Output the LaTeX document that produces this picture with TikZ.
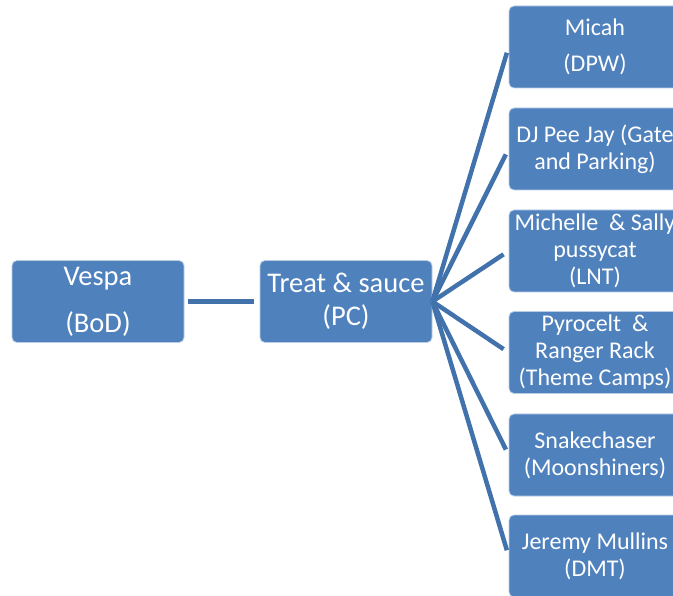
\documentclass[tikz,border=0pt]{standalone}
\usepackage{fontspec}
\setmainfont{Carlito}
\definecolor{boxblue}{RGB}{79,129,189}
\definecolor{lineblue}{RGB}{66,114,172}
\tikzset{
  orgbox/.style={rectangle, rounded corners=5pt, fill=boxblue, draw=white!60!boxblue,
    line width=0.8pt, minimum width=172pt, minimum height=82pt, inner sep=0pt,
    align=center, text=white},
  orgline/.style={draw=lineblue, line width=4.5pt, shorten >=6pt}
}
\begin{document}
\begin{tikzpicture}[x=1pt,y=-1pt]
      \useasboundingbox (0,0) rectangle (673,596);
      \clip (0,0) rectangle (673,596);

      \node [orgbox, font=\fontsize{28.5}{34}\selectfont] (vespa) at (98,301.5) {Vespa\\[13pt](BoD)};
      \node [orgbox, font=\fontsize{28.5}{33}\selectfont] (treat) at (346,301.5) {Treat \& sauce\\(PC)};

      \node [orgbox, font=\fontsize{24}{27}\selectfont] (micah) at (595,47) {Micah\\[9pt](DPW)};
      \node [orgbox, font=\fontsize{24}{27}\selectfont] (peejay) at (595,149) {DJ Pee Jay (Gate\\and Parking)};
      \node [orgbox, font=\fontsize{24}{27}\selectfont] (michelle) at (595,251) {Michelle\ \ \& Sally\\pussycat\\(LNT)};
      \node [orgbox, font=\fontsize{24}{27}\selectfont] (pyrocelt) at (595,352.5) {Pyrocelt\ \ \&\\Ranger Rack\\(Theme Camps)};
      \node [orgbox, font=\fontsize{24}{27}\selectfont] (snake) at (595,455) {Snakechaser\\(Moonshiners)};
      \node [orgbox, font=\fontsize{24}{27}\selectfont] (jeremy) at (595,556) {Jeremy Mullins\\(DMT)};

      \draw [orgline, shorten <=4pt] (vespa.east) -- (treat.west);
      \draw [orgline] (treat.east) -- (micah.west);
      \draw [orgline] (treat.east) -- (peejay.west);
      \draw [orgline] (treat.east) -- (michelle.west);
      \draw [orgline] (treat.east) -- (pyrocelt.west);
      \draw [orgline] (treat.east) -- (snake.west);
      \draw [orgline] (treat.east) -- (jeremy.west);

\end{tikzpicture}
\end{document}
